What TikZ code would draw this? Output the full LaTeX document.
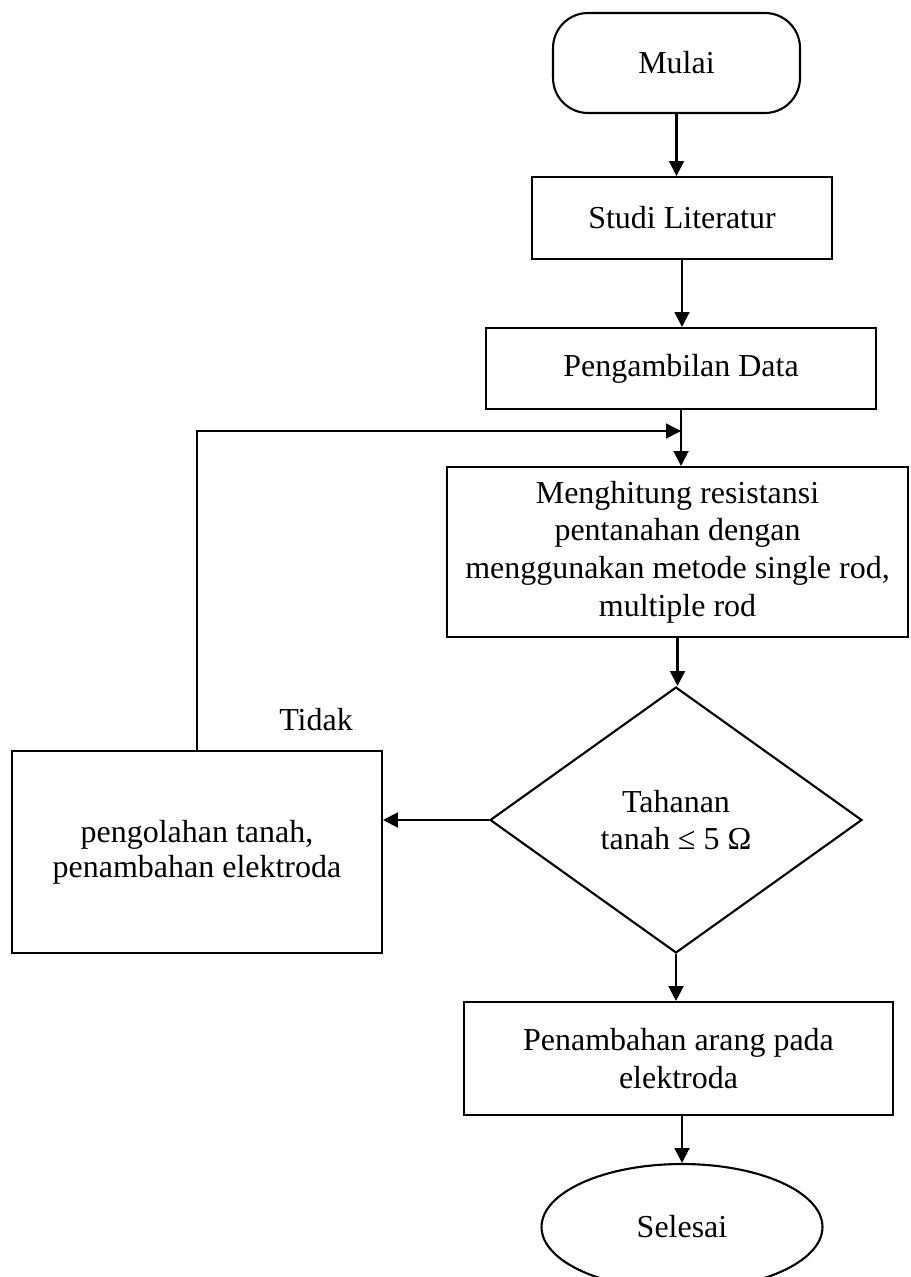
\documentclass[tikz,border=0pt]{standalone}
\usepackage{fontspec}
\setmainfont{Liberation Serif}
\usepackage{tikz}
\usetikzlibrary{shapes.geometric, arrows.meta, positioning, calc}

\begin{document}
\begin{tikzpicture}[x=0.02cm, y=-0.02cm,
    every node/.style={font=\fontsize{18.2}{21.5}\selectfont},
    box/.style={draw, line width=1.2pt, align=center, inner sep=0pt},
    arr/.style={-{Triangle[length=8.5pt, width=8.5pt]}, line width=1.2pt}]
  \useasboundingbox (0,0) rectangle (910,1277);

  % Mulai
  \node[box, rounded corners=0.7cm, minimum width=4.94cm, minimum height=2cm] (mulai) at (676.5, 63) {Mulai};

  % Studi Literatur
  \node[box, minimum width=6cm, minimum height=1.64cm] (studi) at (682, 218) {Studi Literatur};

  % Pengambilan Data
  \node[box, minimum width=7.8cm, minimum height=1.62cm] (ambil) at (681, 368.5) {Pengambilan Data};

  % Menghitung
  \node[box, minimum width=9.22cm, minimum height=3.4cm] (hitung) at (677.5, 552) {
    Menghitung resistansi\\
    pentanahan dengan\\
    menggunakan metode single rod,\\
    multiple rod};

  % Tahanan
  \node[box, diamond, minimum width=7.44cm, minimum height=5.32cm] (cek) at (676, 820) {
    Tahanan\\
    tanah ≤ 5 Ω};

  % pengolahan
  \node[box, minimum width=7.4cm, minimum height=4.04cm,
        font=\fontsize{18.2}{20}\selectfont] (olah) at (197, 852) {
    pengolahan tanah,\\
    penambahan elektroda};
  \node (tidak) at (316, 720) {Tidak};

  % Penambahan arang
  \node[box, minimum width=8.58cm, minimum height=2.26cm] (tambah) at (678.5, 1058.5) {
    Penambahan arang pada\\
    elektroda};

  % Selesai
  \node[box, ellipse, minimum width=5.62cm, minimum height=2.52cm] (selesai) at (682, 1227) {Selesai};

  % Arrows
  \coordinate (balik) at (681, 431);
  \draw[arr] (mulai.south) -- (mulai.south |- studi.north);
  \draw[arr] (studi.south) -- (studi.south |- ambil.north);
  \draw[arr] (ambil.south) -- (ambil.south |- hitung.north);
  \draw[arr, line width=0.8pt] (olah.north) |- (balik);
  \draw[arr] (hitung.south) -- (hitung.south |- cek.north);
  \draw[arr] (cek.west) -- (cek.west -| olah.east);
  \draw[arr] (cek.south) -- (cek.south |- tambah.north);
  \draw[arr] (selesai.north |- tambah.south) -- (selesai.north);
\end{tikzpicture}
\end{document}
